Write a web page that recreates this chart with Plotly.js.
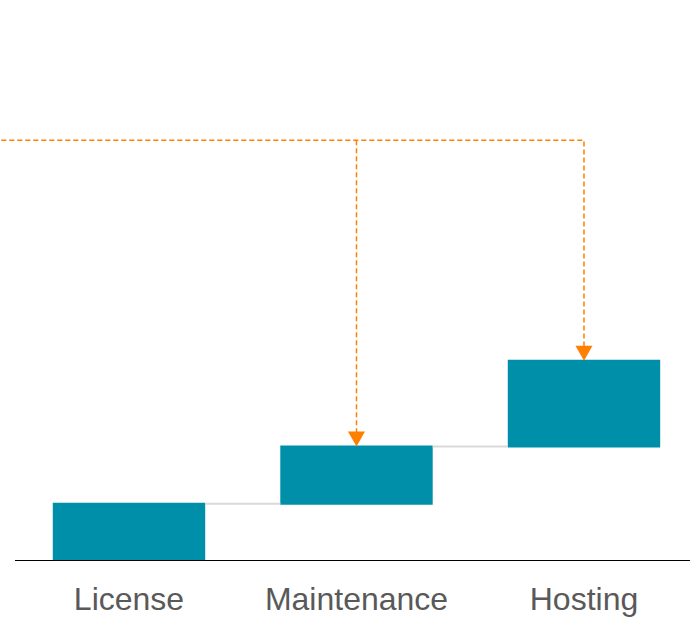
<!DOCTYPE html>
<html><head><meta charset="utf-8">
<script src="https://cdn.plot.ly/plotly-3.0.1.min.js"></script>
<style>html,body{margin:0;padding:0;background:#fff}#chart{width:690px;height:620px}</style>
</head><body><div id="chart"></div>
<script>
const categories = ["License", "Maintenance", "Hosting"];
const values = [2, 2, 3];
const measures = ["relative", "relative", "relative"];
const bracketLevel = 14.7;
const arrowTargets = ["Maintenance", "Hosting"];

const W = 690, H = 620, mb = 59, mt = 0;
const yMax = 19.6;
const teal = "#008FA9", orange = "#FF7F00";

const tops = [];
values.reduce((acc, v, i) => { tops[i] = acc + v; return acc + v; }, 0);
const targetIdx = arrowTargets.map(c => categories.indexOf(c));
const xMin = -0.567, xMax = 2.466;
const lastIdx = targetIdx[targetIdx.length - 1];

// horizontal run + final drop as one continuous path
const bx = [xMin - 0.1, lastIdx, lastIdx];
const by = [bracketLevel, bracketLevel, tops[lastIdx] + 0.3];
// other drops as separate segments
const vx = [], vy = [];
targetIdx.filter(k => k !== lastIdx).forEach(k => {
  vx.push(k, k, null); vy.push(bracketLevel, tops[k] + 0.3, null);
});

const dashLine = { color: orange, width: 1.5, dash: "5px,3px" };
const data = [
  {
    type: "waterfall",
    x: categories.map((c, i) => i), y: values, measure: measures,
    increasing: { marker: { color: teal } },
    decreasing: { marker: { color: teal } },
    totals: { marker: { color: teal } },
    connector: { line: { color: "#d9d9d9", width: 2 } },
    hoverinfo: "none", textinfo: "none"
  },
  { type: "scatter", mode: "lines", x: bx, y: by, cliponaxis: false, line: dashLine, hoverinfo: "none" },
  { type: "scatter", mode: "lines", x: vx, y: vy, cliponaxis: false, line: dashLine, hoverinfo: "none" }
];

const heads = targetIdx.map(k => ({
  type: "path", xref: "x", yref: "y",
  xsizemode: "pixel", ysizemode: "pixel",
  xanchor: k, yanchor: tops[k],
  path: "M -8.5 15 L 8.5 15 L 0 0 Z",
  fillcolor: orange, line: { width: 0 }, layer: "above"
}));

const layout = {
  width: W, height: H,
  margin: { l: 0, r: 0, t: mt, b: mb },
  showlegend: false,
  paper_bgcolor: "#fff", plot_bgcolor: "#fff",
  waterfallgap: 0.33,
  xaxis: {
    type: "linear", range: [xMin, xMax],
    tickvals: [0, 1, 2], ticktext: categories,
    showgrid: false, zeroline: false, showline: false, ticks: "",
    ticklabelstandoff: 16,
    tickfont: { family: "Liberation Sans, Arial, sans-serif", size: 32, color: "#595959" }
  },
  yaxis: { range: [0, yMax], visible: false, showgrid: false, zeroline: false },
  shapes: [
    { type: "line", xref: "paper", yref: "y", x0: 15 / W, x1: 1, y0: 0, y1: 0,
      line: { color: "#000", width: 2 }, layer: "above" }
  ].concat(heads)
};

Plotly.newPlot("chart", data, layout, { staticPlot: true, displayModeBar: false });
</script>
</body></html>
